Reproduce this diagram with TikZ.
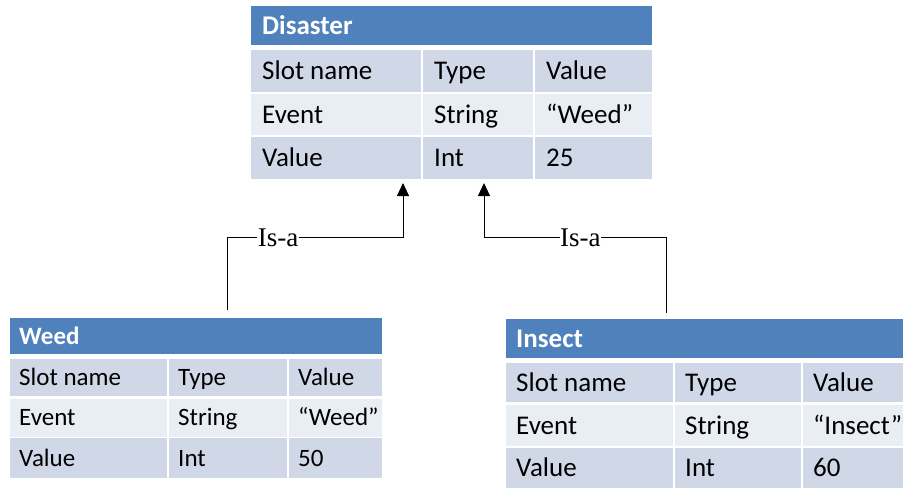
\documentclass[tikz,border=0pt]{standalone}
\usepackage{fontspec}
\setmainfont{Carlito}
\newfontfamily\isafont{Liberation Serif}
\usetikzlibrary{arrows.meta}

\definecolor{hdrblue}{HTML}{4F81BD}
\definecolor{banddark}{HTML}{D0D8E8}
\definecolor{bandlight}{HTML}{E9EDF4}

% one table cell: name, x0, y0, x1, y1, fill, text
\newcommand\slotcell[7]{%
  \path[fill=#6] (#2,#3) rectangle (#4,#5);
  \node[celltext] (#1) at ({#2+\cellpad},{(#3+#5)/2}) {#7};
}
\newcommand\cellpad{10}
\newcommand\capht{17pt}

\begin{document}
\begin{tikzpicture}[x=1pt,y=-1pt,
  celltext/.style={anchor=west, inner sep=0pt, text height=\capht, text depth=0pt},
  isa/.style={draw=black, line width=0.9pt},
  isatip/.style={-{Triangle[length=13pt,width=12pt]}},
  isalabel/.style={fill=white, inner sep=0.5pt, text height=18pt, text depth=0pt,
    font=\isafont\fontsize{27}{30}\selectfont}]
\useasboundingbox (0,0) rectangle (905,488);

% ---- Disaster ----
\begin{scope}[font=\fontsize{27}{32}\selectfont]
\renewcommand\cellpad{11}
\renewcommand\capht{17.4pt}
\slotcell{dis}{251}{6}{652}{45}{hdrblue}{\textcolor{white}{\bfseries Disaster}}
\slotcell{dis11}{251}{50}{421}{92.3}{banddark}{Slot name}
\slotcell{dis12}{423}{50}{533}{92.3}{banddark}{Type}
\slotcell{dis13}{535}{50}{652}{92.3}{banddark}{Value}
\slotcell{dis21}{251}{93.7}{421}{135.3}{bandlight}{Event}
\slotcell{dis22}{423}{93.7}{533}{135.3}{bandlight}{String}
\slotcell{dis23}{535}{93.7}{652}{135.3}{bandlight}{“Weed”}
\slotcell{dis31}{251}{136.7}{421}{179}{banddark}{Value}
\slotcell{dis32}{423}{136.7}{533}{179}{banddark}{Int}
\slotcell{dis33}{535}{136.7}{652}{179}{banddark}{25}
\end{scope}

% ---- Weed ----
\begin{scope}[font=\fontsize{25}{30}\selectfont]
\renewcommand\cellpad{9}
\renewcommand\capht{16pt}
\slotcell{weed}{10}{318}{382}{354}{hdrblue}{\textcolor{white}{\bfseries Weed}}
\slotcell{weed11}{10}{359}{166.7}{396.3}{banddark}{Slot name}
\slotcell{weed12}{169}{359}{286.7}{396.3}{banddark}{Type}
\slotcell{weed13}{289}{359}{382}{396.3}{banddark}{Value}
\slotcell{weed21}{10}{398.7}{166.7}{436.7}{bandlight}{Event}
\slotcell{weed22}{169}{398.7}{286.7}{436.7}{bandlight}{String}
\slotcell{weed23}{289}{398.7}{382}{436.7}{bandlight}{“Weed”}
\slotcell{weed31}{10}{438.3}{166.7}{477.7}{banddark}{Value}
\slotcell{weed32}{169}{438.3}{286.7}{477.7}{banddark}{Int}
\slotcell{weed33}{289}{438.3}{382}{477.7}{banddark}{50}
\end{scope}

% ---- Insect ----
\begin{scope}[font=\fontsize{27}{32}\selectfont]
\renewcommand\cellpad{10}
\renewcommand\capht{17.4pt}
\slotcell{ins}{506}{319}{903.3}{357.7}{hdrblue}{\textcolor{white}{\bfseries Insect}}
\slotcell{ins11}{506}{363}{672.7}{402.3}{banddark}{Slot name}
\slotcell{ins12}{675}{363}{800.7}{402.3}{banddark}{Type}
\slotcell{ins13}{803}{363}{903.3}{402.3}{banddark}{Value}
\slotcell{ins21}{506}{405}{672.7}{445.7}{bandlight}{Event}
\slotcell{ins22}{675}{405}{800.7}{445.7}{bandlight}{String}
\slotcell{ins23}{803}{405}{903.3}{445.7}{bandlight}{“Insect”}
\slotcell{ins31}{506}{447.7}{672.7}{487.7}{banddark}{Value}
\slotcell{ins32}{675}{447.7}{800.7}{487.7}{banddark}{Int}
\slotcell{ins33}{803}{447.7}{903.3}{487.7}{banddark}{60}
\end{scope}

% ---- Is-a connectors ----
\coordinate (weedup) at (227,310);
\coordinate (insup) at (666,313);
\coordinate (disinL) at (403,183);
\coordinate (disinR) at (484,183);
\coordinate (isalvl) at (0,237);

\draw[isa,isatip] (weedup) -- (weedup |- isalvl)
  -- node[isalabel, pos=0.29] (isaL) {Is-a} (disinL |- isalvl) -- (disinL);
\draw[isa,isatip] (insup) -- (insup |- isalvl)
  -- node[isalabel, pos=0.47] (isaR) {Is-a} (disinR |- isalvl) -- (disinR);
\end{tikzpicture}
\end{document}
